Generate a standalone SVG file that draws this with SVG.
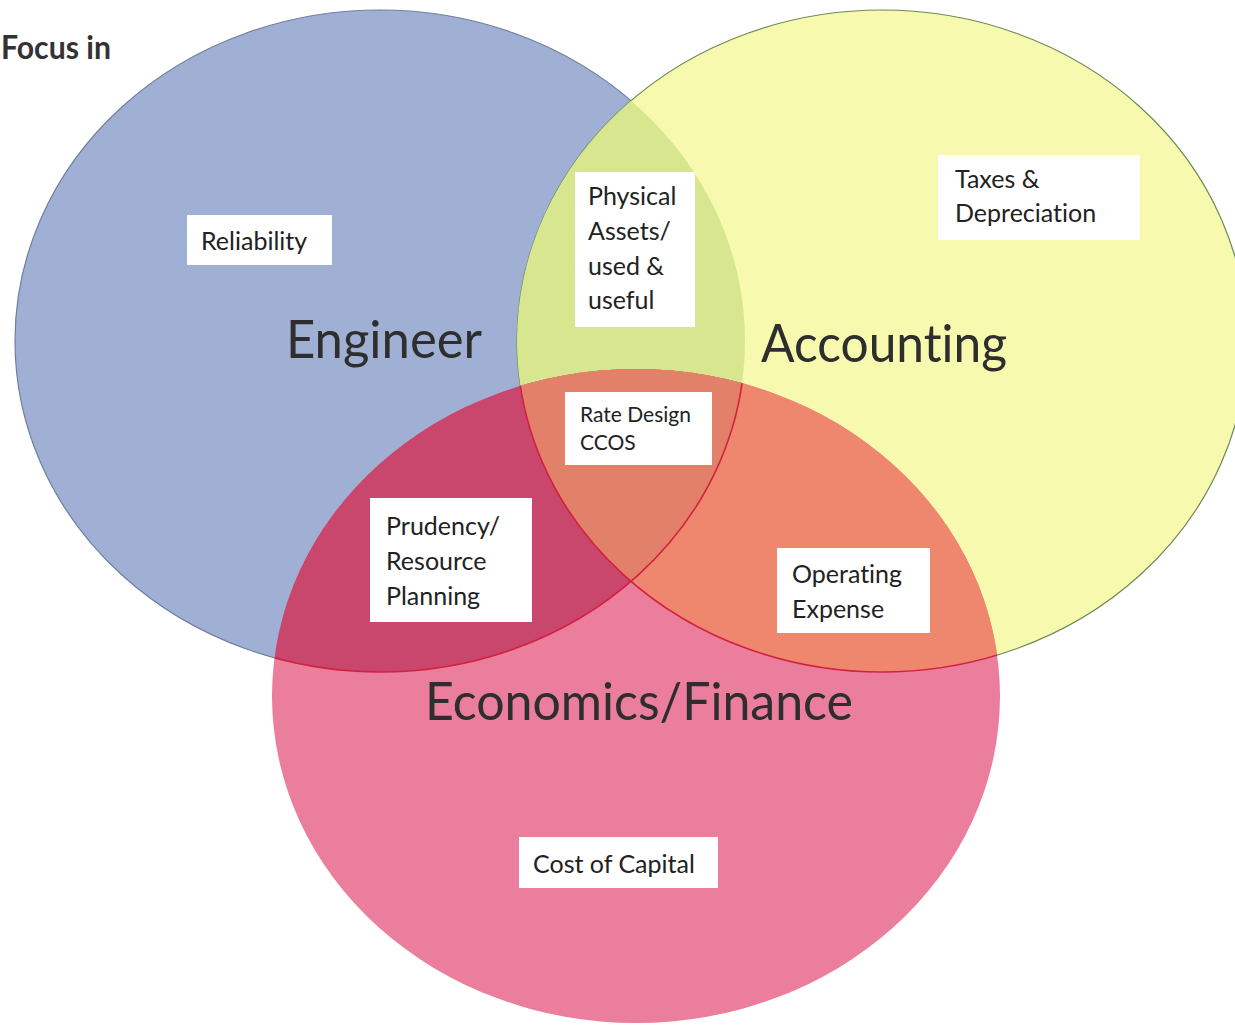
<svg xmlns="http://www.w3.org/2000/svg" width="1235" height="1026" viewBox="0 0 1235 1026">
<defs>
<clipPath id="cB"><ellipse cx="380" cy="341" rx="365" ry="331"/></clipPath>
<clipPath id="cY"><ellipse cx="882" cy="341" rx="365" ry="331"/></clipPath>
<clipPath id="cR"><ellipse cx="636" cy="696" rx="364" ry="327"/></clipPath>
</defs>
<style>
text{font-variant-ligatures:none}
.lbl{font-family:Lato,"Liberation Sans",sans-serif;font-size:25px;fill:#222}
.sm{font-size:21px}
.big{font-family:Lato,"Liberation Sans",sans-serif;font-size:52px;fill:#2e2e2e}
.box{fill:#ffffff}
.inner{fill:none;stroke:#d3223f;stroke-width:1.6}
</style>
<rect width="1235" height="1026" fill="#ffffff"/>
<g id="venn">
<g id="engineer-circle"><ellipse cx="380" cy="341" rx="365" ry="331" fill="#9fb0d4" stroke="#6f7f9f" stroke-width="1.2"/></g>
<g id="accounting-circle"><ellipse cx="882" cy="341" rx="365" ry="331" fill="#f7f9ae" stroke="#6d8a55" stroke-width="1.2"/></g>
<ellipse cx="882" cy="341" rx="365" ry="331" fill="#d7e68f" clip-path="url(#cB)"/>
<g id="economics-circle"><ellipse cx="636" cy="696" rx="364" ry="327" fill="#ea7e9c"/></g>
<ellipse cx="636" cy="696" rx="364" ry="327" fill="#c9466c" clip-path="url(#cB)"/>
<ellipse cx="636" cy="696" rx="364" ry="327" fill="#ee876e" clip-path="url(#cY)"/>
<g clip-path="url(#cB)"><ellipse cx="636" cy="696" rx="364" ry="327" fill="#e2806a" clip-path="url(#cY)"/></g>
<g clip-path="url(#cR)">
<ellipse class="inner" cx="380" cy="341" rx="365" ry="331"/>
<ellipse class="inner" cx="882" cy="341" rx="365" ry="331"/>
</g>
</g>
<g id="title"><text x="1" y="59" font-family="Lato,'Liberation Sans',sans-serif" font-weight="bold" font-size="32" fill="#333" textLength="110" lengthAdjust="spacingAndGlyphs">Focus in</text></g>
<g id="label-engineer"><text class="big" x="286" y="358" textLength="196" lengthAdjust="spacingAndGlyphs">Engineer</text></g>
<g id="label-accounting"><text class="big" x="761" y="362" textLength="246" lengthAdjust="spacingAndGlyphs">Accounting</text></g>
<g id="label-economics"><text class="big" x="425" y="720" textLength="428" lengthAdjust="spacingAndGlyphs">Economics/Finance</text></g>
<g id="reliability"><rect class="box" x="187" y="215" width="145" height="50"/><text class="lbl" x="201" y="250">Reliability</text></g>
<g id="physical-assets"><rect class="box" x="575" y="172" width="120" height="155"/>
<text class="lbl" x="588" y="205">Physical</text><text class="lbl" x="588" y="240">Assets/</text><text class="lbl" x="588" y="275">used &amp;</text><text class="lbl" x="588" y="309">useful</text></g>
<g id="taxes"><rect class="box" x="938" y="155" width="202" height="85"/>
<text class="lbl" x="955" y="188">Taxes &amp;</text><text class="lbl" x="955" y="222">Depreciation</text></g>
<g id="rate-design"><rect class="box" x="565" y="392" width="147" height="73"/>
<text class="lbl sm" x="580" y="422">Rate Design</text><text class="lbl sm" x="580" y="450">CCOS</text></g>
<g id="prudency"><rect class="box" x="370" y="498" width="162" height="124"/>
<text class="lbl" x="386" y="535">Prudency/</text><text class="lbl" x="386" y="570">Resource</text><text class="lbl" x="386" y="605">Planning</text></g>
<g id="operating"><rect class="box" x="777" y="548" width="153" height="85"/>
<text class="lbl" x="792" y="583">Operating</text><text class="lbl" x="792" y="618">Expense</text></g>
<g id="cost-of-capital"><rect class="box" x="519" y="837" width="199" height="51"/><text class="lbl" x="533" y="873">Cost of Capital</text></g>
</svg>
